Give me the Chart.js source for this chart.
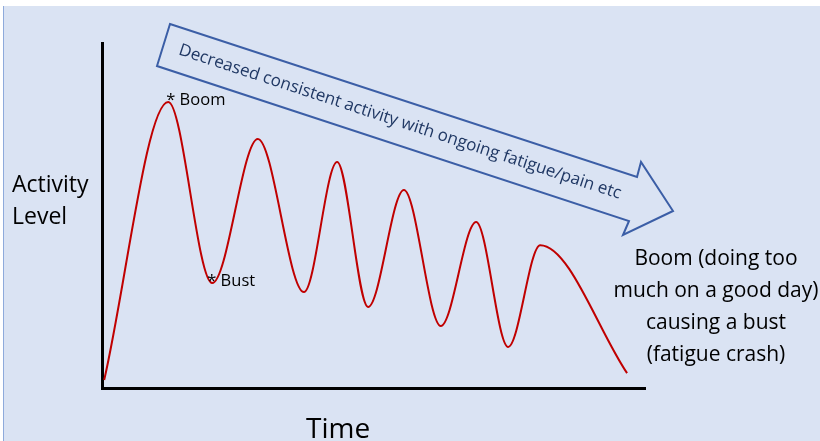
<!DOCTYPE html>
<html>
<head>
<meta charset="utf-8">
<script src="https://cdn.jsdelivr.net/npm/chart.js@4.4.1/dist/chart.umd.min.js"></script>
<style>
    html, body { margin: 0; padding: 0; background: #fff; }
    #wrap { width: 820px; height: 441px; }
</style>
</head>
<body>
<div id="wrap"><canvas id="boomChart" width="820" height="441"></canvas></div>
<script>
// values (time 0-10, activity 0-10): start, the booms and busts, end
const timePoints = [0.04, 1.22, 2.03, 2.87, 3.72, 4.33, 4.90, 5.56, 6.24, 6.89, 7.48, 8.07, 9.67];
const activityLevels = [0.23, 8.29, 3.04, 7.22, 2.78, 6.55, 2.35, 5.74, 1.80, 4.81, 1.19, 4.14, 0.43];
const boomIndex = 1;
const bustIndex = 2;

const yTitleLines = ['Activity', 'Level'];
const xTitle = 'Time';
const arrowText = 'Decreased consistent activity with ongoing fatigue/pain etc';
const noteLines = ['Boom (doing too', 'much on a good day)', 'causing a bust', '(fatigue crash)'];

const FONT = '"Open Sans", "Noto Sans", sans-serif';

const sketchPlugin = {
    id: 'sketch',
    beforeDraw(chart) {
        const ctx = chart.ctx;
        ctx.save();
        ctx.fillStyle = '#ffffff';
        ctx.fillRect(0, 0, chart.width, chart.height);
        ctx.fillStyle = '#dae3f3';
        ctx.fillRect(3, 6, chart.width - 3, chart.height - 6);
        ctx.strokeStyle = '#8eaadb';
        ctx.lineWidth = 1;
        ctx.beginPath();
        ctx.moveTo(3.5, 6);
        ctx.lineTo(3.5, chart.height);
        ctx.stroke();
        ctx.restore();
    },
    afterDraw(chart) {
        const ctx = chart.ctx;
        const xs = chart.scales.x;
        const ys = chart.scales.y;
        ctx.save();

        // big arrow
        ctx.strokeStyle = '#3b5ea6';
        ctx.lineWidth = 2;
        ctx.lineJoin = 'miter';
        ctx.beginPath();
        ctx.moveTo(170, 24);
        ctx.lineTo(637, 177);
        ctx.lineTo(641, 162);
        ctx.lineTo(673, 211);
        ctx.lineTo(623, 235);
        ctx.lineTo(629, 221);
        ctx.lineTo(157, 66);
        ctx.closePath();
        ctx.stroke();

        ctx.save();
        ctx.translate(400, 122);
        ctx.rotate(Math.atan2(153, 467));
        ctx.fillStyle = '#203864';
        ctx.font = '17px ' + FONT;
        ctx.textAlign = 'center';
        ctx.textBaseline = 'middle';
        ctx.fillText(arrowText, 0, 0);
        ctx.restore();

        // boom / bust markers
        ctx.fillStyle = '#000';
        ctx.font = '16.5px ' + FONT;
        ctx.textAlign = 'left';
        ctx.textBaseline = 'alphabetic';
        ctx.fillText('* Boom', xs.getPixelForValue(timePoints[boomIndex]) - 2, ys.getPixelForValue(activityLevels[boomIndex]) + 3);
        ctx.fillText('* Bust', xs.getPixelForValue(timePoints[bustIndex]) - 5, ys.getPixelForValue(activityLevels[bustIndex]) + 3);

        // axis titles
        ctx.font = '23px ' + FONT;
        ctx.fillText(yTitleLines[0], 12, 192);
        ctx.fillText(yTitleLines[1], 12, 224);
        ctx.font = '28px ' + FONT;
        ctx.fillText(xTitle, 306, 438);

        // note on the right
        ctx.font = '21px ' + FONT;
        ctx.textAlign = 'center';
        noteLines.forEach((line, i) => {
            ctx.fillText(line, 716, 265 + i * 32);
        });

        ctx.restore();
    }
};

const ctx = document.getElementById('boomChart').getContext('2d');
new Chart(ctx, {
    type: 'line',
    data: {
        datasets: [{
            data: timePoints.map((t, i) => ({ x: t, y: activityLevels[i] })),
            borderColor: '#c00000',
            borderWidth: 2,
            pointRadius: 0,
            cubicInterpolationMode: 'monotone',
            fill: false
        }]
    },
    options: {
        responsive: false,
        animation: false,
        layout: { padding: { left: 102, right: 175, top: 43, bottom: 53 } },
        plugins: { legend: { display: false }, tooltip: { enabled: false } },
        scales: {
            x: {
                type: 'linear', min: 0, max: 10,
                grid: { display: false, drawTicks: false },
                ticks: { display: false },
                border: { color: '#000', width: 3 }
            },
            y: {
                min: 0, max: 10,
                grid: { display: false, drawTicks: false },
                ticks: { display: false },
                border: { color: '#000', width: 3 }
            }
        }
    },
    plugins: [sketchPlugin]
});
</script>
</body>
</html>
